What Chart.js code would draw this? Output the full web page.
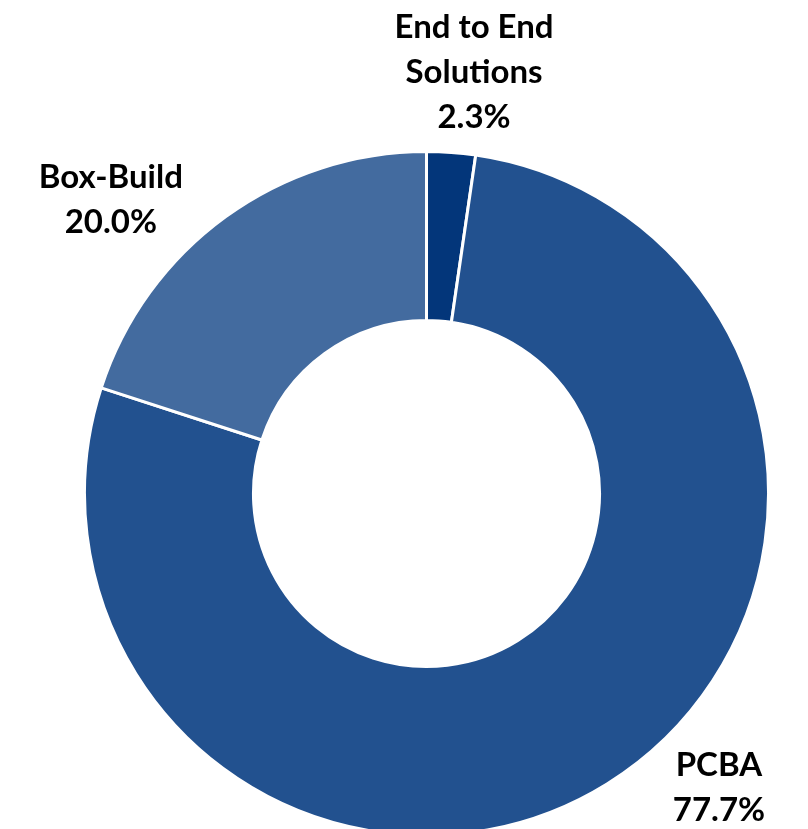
<!DOCTYPE html>
<html>
<head>
<meta charset="utf-8">
<script src="https://cdn.jsdelivr.net/npm/chart.js@4/dist/chart.umd.min.js"></script>
<style>
  html, body { margin: 0; padding: 0; background: #fff; overflow: hidden; }
  #wrap { width: 808px; height: 837px; position: relative; }
</style>
</head>
<body>
<div id="wrap"><canvas id="mixChart"></canvas></div>
<script>
    const segments = ["End to End Solutions", "PCBA", "Box-Build"];
    const shares = [2.3, 77.7, 20.0];
    const labelLines = [["End to End", "Solutions"], ["PCBA"], ["Box-Build"]];
    const colors = ["#03367a", "#22518f", "#436b9f"];

    // where each label block sits, relative to the centre, in units of outer radius
    const labelSpots = [
        { dx: 0.139, dy: -1.232 },
        { dx: 0.855, dy: 0.862 },
        { dx: -0.923, dy: -0.860 }
    ];

    const outsideLabels = {
        id: "outsideLabels",
        afterDatasetsDraw(chart) {
            const ctx = chart.ctx;
            const meta = chart.getDatasetMeta(0);
            ctx.save();
            ctx.font = "bold 33px Lato, 'Open Sans', sans-serif";
            ctx.fillStyle = "#000";
            ctx.textAlign = "center";
            ctx.textBaseline = "middle";
            meta.data.forEach((arc, i) => {
                const r = arc.outerRadius;
                const cx = arc.x + labelSpots[i].dx * r;
                const cy = arc.y + labelSpots[i].dy * r;
                const lines = labelLines[i].concat([shares[i].toFixed(1) + "%"]);
                const lh = 45;
                const top = cy - (lines.length - 1) * lh / 2;
                lines.forEach((t, k) => ctx.fillText(t, cx, top + k * lh));
            });
            ctx.restore();
        }
    };

    new Chart(document.getElementById("mixChart"), {
        type: "doughnut",
        data: {
            labels: segments,
            datasets: [{
                data: shares,
                backgroundColor: colors,
                borderColor: "#fff",
                borderWidth: 3
            }]
        },
        options: {
            responsive: true,
            maintainAspectRatio: false,
            animation: false,
            cutout: "50.6%",
            layout: { padding: { left: 83, right: 38, top: 150, bottom: 0 } },
            plugins: {
                legend: { display: false },
                tooltip: { enabled: false }
            }
        },
        plugins: [outsideLabels]
    });
</script>
</body>
</html>
